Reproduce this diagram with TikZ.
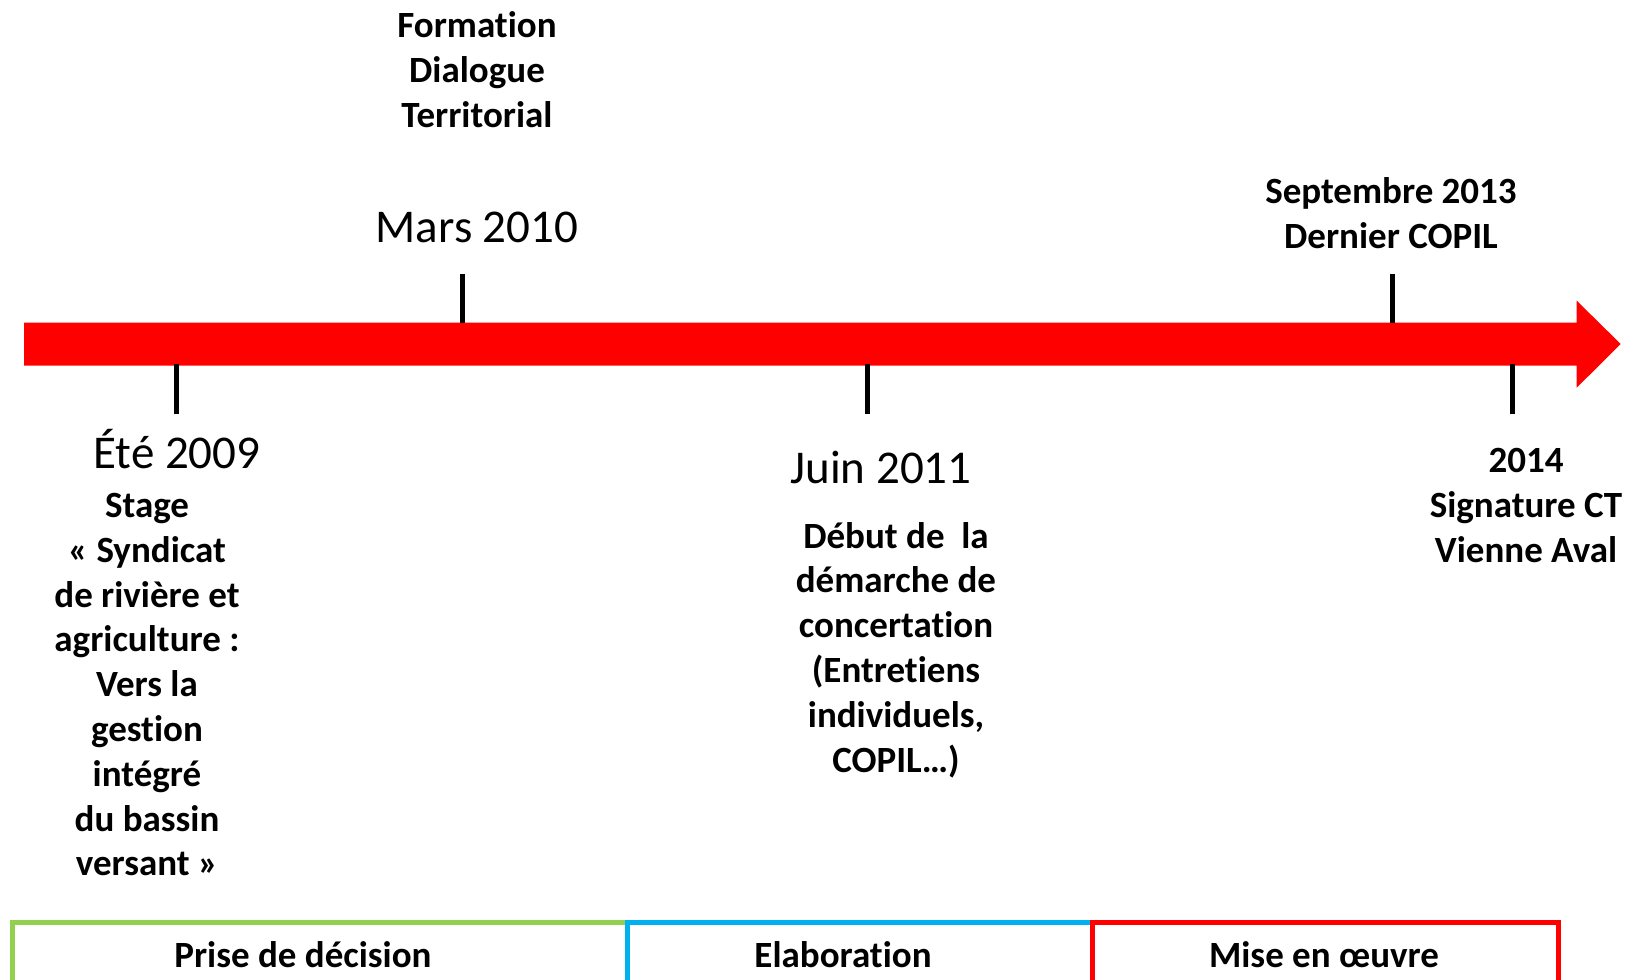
\documentclass[tikz,border=0pt]{standalone}
\usepackage{fontspec}
\setmainfont{Carlito}[Ligatures=NoCommon]
\definecolor{arrowred}{HTML}{FF0000}
\definecolor{phgreen}{HTML}{92D050}
\definecolor{phblue}{HTML}{00B0F0}
\begin{document}
\begin{tikzpicture}[x=1pt,y=-1pt,
  lbl/.style={font=\fontsize{37}{44.8}\selectfont\bfseries, align=center, inner sep=0pt},
  datelbl/.style={font=\fontsize{47}{56}\selectfont, inner sep=0pt},
  tickline/.style={line width=5pt, black},
  phasebox/.style={line width=5pt}]
\clip (0,0) rectangle (1628,980);
% main arrow
\fill[arrowred] (24,322.7) -- (1576.7,322.7) -- (1576.7,300.7) -- (1620.7,344)
  -- (1576.7,387.7) -- (1576.7,365.7) -- (24,365.7) -- cycle;
% ticks
\coordinate (t1a) at (176.7,364); \coordinate (t1b) at (176.7,414);
\coordinate (t2a) at (462,274);   \coordinate (t2b) at (462,323);
\coordinate (t3a) at (867,364);   \coordinate (t3b) at (867,414);
\coordinate (t4a) at (1392,274);  \coordinate (t4b) at (1392,323);
\coordinate (t5a) at (1512,364);  \coordinate (t5b) at (1512,414);
\draw[tickline] (t1a) -- (t1b);
\draw[tickline] (t2a) -- (t2b);
\draw[tickline] (t3a) -- (t3b);
\draw[tickline] (t4a) -- (t4b);
\draw[tickline] (t5a) -- (t5b);
% labels
\node[lbl] (formation) at (477,69.6) {Formation\\Dialogue\\Territorial};
\node[datelbl] (mars) at (477,227) {Mars 2010};
\node[lbl] (sept) at (1391,213) {Septembre 2013\\Dernier COPIL};
\node[datelbl] (ete) at (177,449) {Été 2009};
\node[lbl] (stage) at (147,684.7) {Stage\\« Syndicat\\de rivière et\\agriculture :\\Vers la\\gestion\\intégré\\du bassin\\versant »};
\node[datelbl] (juin) at (881,467) {Juin 2011};
\node[lbl] (debut) at (896,650) {Début de~ la\\démarche de\\concertation\\(Entretiens\\individuels,\\COPIL…)};
\node[lbl] (sign) at (1526,505.5) {2014\\Signature CT\\Vienne Aval};
% phases
\draw[phasebox, phgreen] (12,922) rectangle (627,982);
\draw[phasebox, phblue] (627,922) rectangle (1092,982);
\draw[phasebox, arrowred] (1092,922) rectangle (1558,982);
\node[lbl] (p1) at (303,955) {Prise de décision};
\node[lbl] (p2) at (843,955) {Elaboration};
\node[lbl] (p3) at (1324,955) {Mise en œuvre};
\end{tikzpicture}
\end{document}
